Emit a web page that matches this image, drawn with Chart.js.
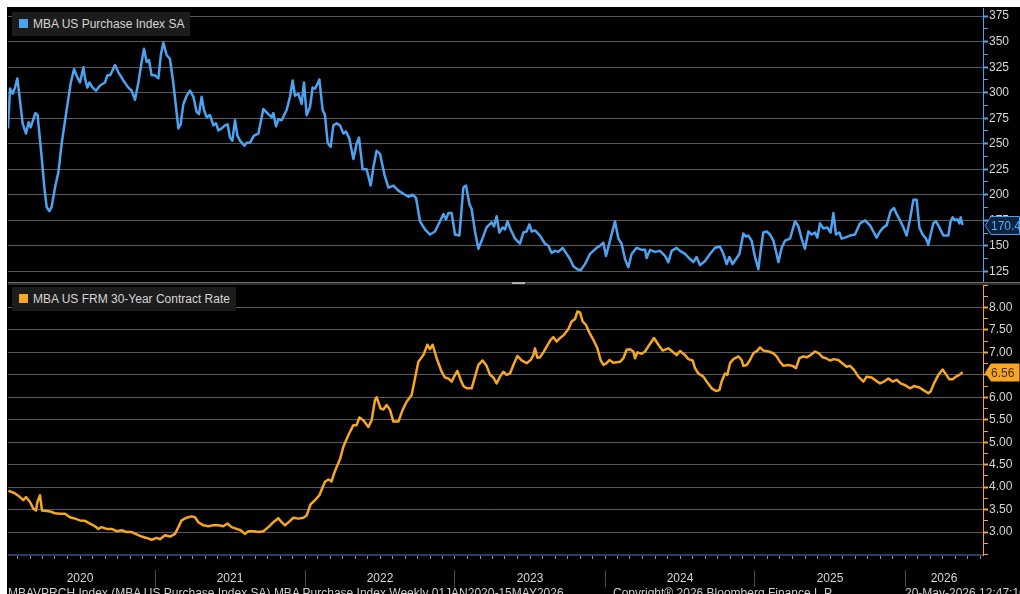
<!DOCTYPE html>
<html>
<head>
<meta charset="utf-8">
<script src="https://cdn.jsdelivr.net/npm/chart.js@4.4.1/dist/chart.umd.min.js"></script>
<style>
  body { margin: 0; width: 1020px; height: 594px; overflow: hidden; background: #fff; position: relative; font-family: "Liberation Sans", Arial, sans-serif; }
  #frame { position: absolute; left: 7px; top: 7px; width: 1013px; height: 587px; background: #000; }
  .panel { position: absolute; left: 8px; width: 1012px; }
  .legend { position: absolute; left: 12px; height: 24px; line-height: 24px; padding: 0 6px 0 7px; background: #1c1c1c; color: #d6d6d6; font-size: 12px; white-space: nowrap; }
  .legend i { display: inline-block; width: 9px; height: 9px; margin-right: 5px; }
  #sep { position: absolute; left: 8px; top: 282px; width: 1012px; height: 2px; background: #2e2e2e; border-top: 1px solid #6e6e6e; }
  #grip { position: absolute; left: 512px; top: 282px; width: 13px; height: 2px; background: #b0b0b0; }
  .foot { position: absolute; top: 586px; font-size: 12px; line-height: 14px; color: #cfcfcf; white-space: nowrap; }
</style>
</head>
<body>
<div id="frame"></div>
<div class="panel" style="top:8px;height:274px"><canvas id="purchaseChart"></canvas></div>
<div class="panel" style="top:285px;height:309px"><canvas id="rateChart"></canvas></div>
<div id="sep"></div><div id="grip"></div>
<div class="legend" style="top:12px"><i style="background:#4da3f0"></i>MBA US Purchase Index SA</div>
<div class="legend" style="top:287px"><i style="background:#f5a623"></i>MBA US FRM 30-Year Contract Rate</div>
<div class="foot" style="left:8px">MBAVPRCH Index (MBA US Purchase Index SA) MBA Purchase Index Weekly 01JAN2020-15MAY2026</div>
<div class="foot" style="left:613px">Copyright® 2026 Bloomberg Finance L.P.</div>
<div class="foot" style="left:905px">20-May-2026 12:47:16</div>
<script>
// x = months since 1 Jan 2020 (weekly data)
const purchaseMonths = [
  0.24,0.40,0.61,0.80,0.99,1.20,1.41,1.68,1.89,2.05,
  2.27,2.43,2.61,2.75,2.93,3.15,3.33,3.55,3.73,4.00,
  4.27,4.53,4.93,5.25,5.52,5.79,6.00,6.27,6.40,6.59,
  6.75,7.01,7.28,7.60,8.00,8.19,8.40,8.53,8.80,9.07,
  9.47,9.87,10.13,10.40,10.67,10.93,11.12,11.33,11.52,11.73,
  12.00,12.27,12.48,12.67,12.93,13.20,13.47,13.68,13.87,14.05,
  14.27,14.53,14.80,15.07,15.33,15.52,15.73,15.92,16.13,16.40,
  16.67,16.88,17.07,17.33,17.60,17.81,18.00,18.19,18.40,18.59,
  18.80,19.15,19.33,19.60,19.92,20.27,20.67,21.07,21.33,21.47,
  21.68,21.87,22.13,22.53,22.80,23.01,23.20,23.47,23.73,23.92,
  24.13,24.40,24.61,24.80,24.93,25.15,25.41,25.60,25.81,26.05,
  26.27,26.53,26.80,27.07,27.28,27.55,27.87,28.13,28.32,28.61,
  28.93,29.25,29.47,29.73,30.00,30.35,30.67,31.07,31.47,31.87,
  32.27,32.61,32.88,33.20,33.60,34.00,34.40,34.80,35.07,35.28,
  35.47,35.73,36.00,36.35,36.67,36.88,37.15,37.33,37.60,37.87,
  38.13,38.53,38.93,39.12,39.33,39.55,39.81,40.00,40.19,40.45,
  40.80,41.20,41.47,41.73,41.95,42.13,42.40,42.80,43.20,43.47,
  43.73,44.00,44.27,44.61,44.93,45.20,45.47,45.79,46.05,46.40,
  46.80,47.07,47.33,47.60,47.87,48.08,48.40,48.80,49.07,49.33,
  49.60,49.87,50.13,50.53,50.93,51.20,51.33,51.60,52.00,52.40,
  52.80,53.07,53.33,53.73,54.00,54.40,54.80,55.07,55.33,55.60,
  56.00,56.40,56.80,57.20,57.47,57.73,57.95,58.21,58.48,58.75,
  59.07,59.28,59.47,59.73,60.00,60.27,60.45,60.67,60.93,61.20,
  61.47,61.73,61.87,62.13,62.40,62.80,63.20,63.47,63.73,64.00,
  64.27,64.53,64.80,64.99,65.20,65.47,65.79,66.05,66.27,66.48,
  66.75,66.93,67.20,67.60,68.00,68.40,68.80,69.20,69.47,69.73,
  70.00,70.27,70.53,70.85,71.12,71.33,71.60,71.87,72.13,72.40,
  72.67,72.93,73.15,73.41,73.68,73.87,74.05,74.27,74.48,74.75,
  75.07,75.47,75.65,75.81,76.00,76.19,76.35,76.45,76.61
];
const purchaseValues = [
  265,304,299,305,314,292,270,260,271,266,
  274,280,278,260,237,207,188,184,188,207,
  222,250,283,309,323,315,310,325,314,305,
  310,305,302,307,310,317,317,320,327,320,
  312,305,302,293,310,330,343,330,332,317,
  317,314,338,349,337,333,309,286,265,269,
  289,297,302,296,281,279,296,283,276,278,
  268,270,263,265,268,269,256,253,273,258,
  253,248,251,251,258,260,284,279,276,280,
  267,274,273,283,296,312,297,299,289,310,
  278,286,305,304,307,313,283,278,251,247,
  268,270,268,260,262,255,235,250,256,225,
  225,209,227,243,240,220,207,209,204,201,
  198,200,197,174,166,161,164,174,181,176,
  182,182,161,160,207,209,191,186,164,147,
  155,168,173,169,179,163,168,166,174,166,
  157,152,163,164,171,164,165,160,152,150,
  143,145,144,148,142,137,130,127,126,132,
  142,145,148,150,153,140,155,174,157,152,
  137,129,142,148,146,146,138,146,144,145,
  140,134,145,148,145,142,137,134,139,131,
  135,142,148,149,142,132,139,132,137,142,
  162,159,160,155,139,127,145,163,164,161,
  155,142,134,148,155,157,174,169,157,147,
  164,161,163,158,172,167,168,163,182,161,
  163,157,158,160,161,172,175,170,164,158,
  164,168,170,184,187,181,175,168,160,176,
  195,195,168,161,157,151,161,172,174,168,
  160,160,174,178,175,176,172,178,170.4
];

const rateMonths = [
  0.27,0.80,1.20,1.47,1.68,2.00,2.27,2.48,2.59,2.80,
  2.96,3.33,3.60,4.00,4.40,4.80,5.20,5.60,6.00,6.40,
  6.80,7.20,7.47,7.73,8.13,8.53,8.93,9.33,9.73,10.13,
  10.53,10.93,11.33,11.73,12.13,12.40,12.80,13.20,13.60,13.87,
  14.13,14.53,14.93,15.20,15.47,15.87,16.27,16.67,17.07,17.47,
  17.79,18.13,18.53,18.85,19.20,19.47,19.87,20.27,20.67,21.07,
  21.47,21.87,22.13,22.40,22.80,23.07,23.47,23.87,24.13,24.45,
  24.80,25.15,25.41,25.60,25.87,26.13,26.32,26.53,26.80,27.07,
  27.47,27.87,28.13,28.35,28.67,29.07,29.33,29.60,29.73,30.05,
  30.27,30.53,30.80,31.07,31.47,31.81,32.13,32.53,33.07,33.47,
  33.79,34.00,34.21,34.53,34.93,35.20,35.47,35.73,36.00,36.19,
  36.45,36.67,36.93,37.33,37.60,37.87,38.21,38.53,38.80,39.07,
  39.33,39.60,39.87,40.13,40.40,40.67,40.99,41.33,41.73,42.05,
  42.27,42.40,42.59,42.80,43.07,43.33,43.65,43.87,44.13,44.40,
  44.72,45.07,45.33,45.60,45.79,46.00,46.21,46.48,46.75,47.07,
  47.39,47.65,47.87,48.13,48.35,48.67,49.20,49.47,49.73,50.00,
  50.27,50.40,50.59,50.93,51.20,51.55,51.92,52.27,52.61,53.07,
  53.47,53.73,54.00,54.40,54.67,55.01,55.20,55.47,55.87,56.13,
  56.53,56.88,57.15,57.33,57.60,57.79,58.00,58.27,58.67,58.93,
  59.07,59.33,59.60,59.87,60.19,60.40,60.67,61.07,61.47,61.73,
  62.00,62.27,62.67,63.01,63.28,63.55,63.87,64.13,64.45,64.80,
  65.15,65.41,65.68,66.00,66.32,66.67,66.93,67.33,67.60,67.92,
  68.27,68.67,68.93,69.33,69.73,70.00,70.32,70.67,71.01,71.33,
  71.65,72.00,72.40,72.72,73.15,73.47,73.87,74.05,74.32,74.67,
  75.01,75.28,75.55,75.81,76.08,76.35,76.61
];
const rateValues = [
  3.92,3.86,3.78,3.71,3.78,3.67,3.52,3.48,3.67,3.82,
  3.48,3.47,3.46,3.42,3.41,3.41,3.33,3.30,3.26,3.25,
  3.19,3.13,3.07,3.11,3.07,3.07,3.02,3.04,3.00,3.00,
  2.95,2.90,2.87,2.83,2.87,2.84,2.93,2.90,2.96,3.11,
  3.26,3.32,3.35,3.33,3.22,3.15,3.13,3.15,3.15,3.13,
  3.19,3.11,3.07,3.04,2.96,3.02,3.02,3.00,3.02,3.11,
  3.22,3.31,3.22,3.15,3.25,3.32,3.30,3.32,3.37,3.62,
  3.71,3.82,4.00,4.12,4.17,4.13,4.30,4.45,4.62,4.90,
  5.16,5.38,5.38,5.55,5.49,5.34,5.49,5.94,6.00,5.75,
  5.73,5.83,5.72,5.46,5.46,5.72,5.90,6.05,6.79,6.94,
  7.17,7.07,7.17,6.87,6.57,6.44,6.42,6.35,6.50,6.59,
  6.39,6.25,6.20,6.20,6.46,6.72,6.82,6.70,6.50,6.44,
  6.31,6.46,6.57,6.50,6.53,6.72,6.92,6.82,6.76,6.83,
  6.94,7.09,6.88,6.89,7.00,7.13,7.28,7.34,7.24,7.32,
  7.39,7.52,7.69,7.74,7.91,7.89,7.69,7.61,7.44,7.28,
  7.09,6.83,6.72,6.76,6.83,6.77,6.79,6.87,7.06,7.07,
  7.02,6.87,7.00,6.97,7.02,7.17,7.32,7.17,7.04,7.09,
  7.00,6.94,7.03,6.94,6.85,6.82,6.65,6.53,6.46,6.35,
  6.20,6.14,6.16,6.35,6.53,6.50,6.76,6.85,6.91,6.83,
  6.70,6.72,6.83,6.98,7.04,7.11,7.04,7.02,6.98,6.91,
  6.79,6.70,6.72,6.70,6.65,6.87,6.91,6.89,6.94,7.02,
  6.97,6.89,6.87,6.82,6.85,6.83,6.77,6.68,6.70,6.61,
  6.46,6.35,6.46,6.44,6.36,6.31,6.35,6.42,6.35,6.39,
  6.31,6.27,6.20,6.25,6.22,6.16,6.09,6.13,6.31,6.50,
  6.62,6.51,6.40,6.40,6.46,6.50,6.56
];

// axis ticks
const yearLabels = ["2020", "2021", "2022", "2023", "2024", "2025", "2026"];
const purchaseTickValues = [125,137.5,150,162.5,175,187.5,200,212.5,225,237.5,250,262.5,275,287.5,300,312.5,325,337.5,350,362.5,375];
const rateTickValues = [2.5,2.75,3,3.25,3.5,3.75,4,4.25,4.5,4.75,5,5.25,5.5,5.75,6,6.25,6.5,6.75,7,7.25,7.5,7.75,8,8.25,8.5];

const X_MIN = 0.24, X_MAX = 78.24;
const BLUE = "#4da3f0", ORANGE = "#f5a623", GRID = "#5a5a5a", TEXT = "#d6d6d6";

Chart.defaults.font.family = "'Liberation Sans', Arial, sans-serif";
Chart.defaults.font.size = 12;
Chart.defaults.color = TEXT;

// little flag with the last value, sitting on the right axis
function lastTag(fill, stroke, textColor, digits) {
  return {
    id: "lastTag",
    afterDraw(chart) {
      const pts = chart.data.datasets[0].data;
      const last = pts[pts.length - 1].y;
      const ys = chart.scales.y;
      const y = Math.round(ys.getPixelForValue(last)) + 0.5;
      const x0 = ys.left + 2, x1 = chart.width - 0.5, h = 9;
      const ctx = chart.ctx;
      ctx.save();
      ctx.beginPath();
      ctx.moveTo(x0, y);
      ctx.lineTo(x0 + 6, y - h);
      ctx.lineTo(x1, y - h);
      ctx.lineTo(x1, y + h);
      ctx.lineTo(x0 + 6, y + h);
      ctx.closePath();
      ctx.fillStyle = fill;
      ctx.fill();
      if (stroke) { ctx.strokeStyle = stroke; ctx.lineWidth = 1; ctx.stroke(); }
      ctx.fillStyle = textColor;
      ctx.font = "12px 'Liberation Sans', Arial, sans-serif";
      ctx.textBaseline = "middle";
      ctx.fillText(last.toFixed(digits), x0 + 6, y + 1);
      ctx.restore();
    }
  };
}

function rightAxis(min, max, tickValues, isMajor, fmt, color) {
  return {
    position: "right",
    min: min,
    max: max,
    afterBuildTicks: (s) => { s.ticks = tickValues.map((v) => ({ value: v })); },
    afterFit: (s) => { s.width = 37; s.paddingTop = 0; s.paddingBottom = 0; },
    grid: {
      color: (c) => (c.tick && isMajor(c.tick.value) ? GRID : "rgba(0,0,0,0)"),
      tickColor: color,
      tickLength: 5,
      tickWidth: (c) => (c.tick && isMajor(c.tick.value) ? 2 : 1),
    },
    border: { color: color, width: 1 },
    ticks: {
      autoSkip: false,
      padding: 1,
      color: TEXT,
      callback: (v) => (isMajor(v) ? fmt(v) : ""),
    },
  };
}

const purchaseMajor = (v) => v % 25 === 0;
const rateMajor = (v) => Math.abs(v * 2 - Math.round(v * 2)) < 1e-6 && v >= 3 && v <= 8;

new Chart(document.getElementById("purchaseChart"), {
  type: "line",
  data: {
    datasets: [{
      label: "MBA US Purchase Index SA",
      data: purchaseMonths.map((m, i) => ({ x: m, y: purchaseValues[i] })),
      borderColor: BLUE,
      borderWidth: 2.5,
      pointRadius: 0,
      borderJoinStyle: "round",
    }],
  },
  options: {
    animation: false,
    responsive: true,
    maintainAspectRatio: false,
    layout: { padding: 0 },
    plugins: { legend: { display: false }, tooltip: { enabled: false } },
    scales: {
      x: { type: "linear", min: X_MIN, max: X_MAX, display: false },
      y: rightAxis(114.5, 383, purchaseTickValues, purchaseMajor, (v) => String(v), BLUE),
    },
  },
  plugins: [lastTag("#0c2440", BLUE, "#5aaaf5", 1)],
});

// month marks and year labels for the shared time axis
const monthTicks = [];
for (let m = 1; m <= 78; m++) monthTicks.push(m);
const yearCenters = yearLabels.map((y, i) => (i < 6 ? 12 * i + 6 : (72 + X_MAX) / 2));
const yearTicks = yearCenters.concat([12, 24, 36, 48, 60, 72]).sort((a, b) => a - b);

new Chart(document.getElementById("rateChart"), {
  type: "line",
  data: {
    datasets: [{
      label: "MBA US FRM 30-Year Contract Rate",
      data: rateMonths.map((m, i) => ({ x: m, y: rateValues[i] })),
      borderColor: ORANGE,
      borderWidth: 2.5,
      pointRadius: 0,
      borderJoinStyle: "round",
    }],
  },
  options: {
    animation: false,
    responsive: true,
    maintainAspectRatio: false,
    layout: { padding: 0 },
    plugins: { legend: { display: false }, tooltip: { enabled: false } },
    scales: {
      x: {
        type: "linear", min: X_MIN, max: X_MAX, position: "bottom", weight: 0,
        afterBuildTicks: (s) => { s.ticks = monthTicks.map((v) => ({ value: v })); },
        afterFit: (s) => { s.height = 15; s.paddingLeft = 0; s.paddingRight = 0; },
        grid: { drawOnChartArea: false, drawTicks: true, tickLength: 4, color: "#7f8cab", tickColor: "#7f8cab" },
        border: { display: true, color: "#2a3b66", width: 2 },
        ticks: { display: false },
      },
      years: {
        type: "linear", min: X_MIN, max: X_MAX, position: "bottom", weight: 1,
        afterBuildTicks: (s) => { s.ticks = yearTicks.map((v) => ({ value: v })); },
        afterFit: (s) => { s.height = 24; s.paddingLeft = 0; s.paddingRight = 0; },
        grid: {
          drawOnChartArea: false,
          tickLength: 17,
          color: (c) => (c.tick && c.tick.value % 12 === 0 ? "#4a4a4a" : "rgba(0,0,0,0)"),
        },
        border: { display: false },
        ticks: {
          autoSkip: false, maxRotation: 0, padding: -16, color: TEXT,
          callback: (v) => { const i = yearCenters.indexOf(v); return i >= 0 ? yearLabels[i] : ""; },
        },
      },
      y: rightAxis(2.49, 8.5, rateTickValues, rateMajor, (v) => v.toFixed(2), ORANGE),
    },
  },
  plugins: [lastTag(ORANGE, null, "#4a2a00", 2)],
});
</script>
</body>
</html>
